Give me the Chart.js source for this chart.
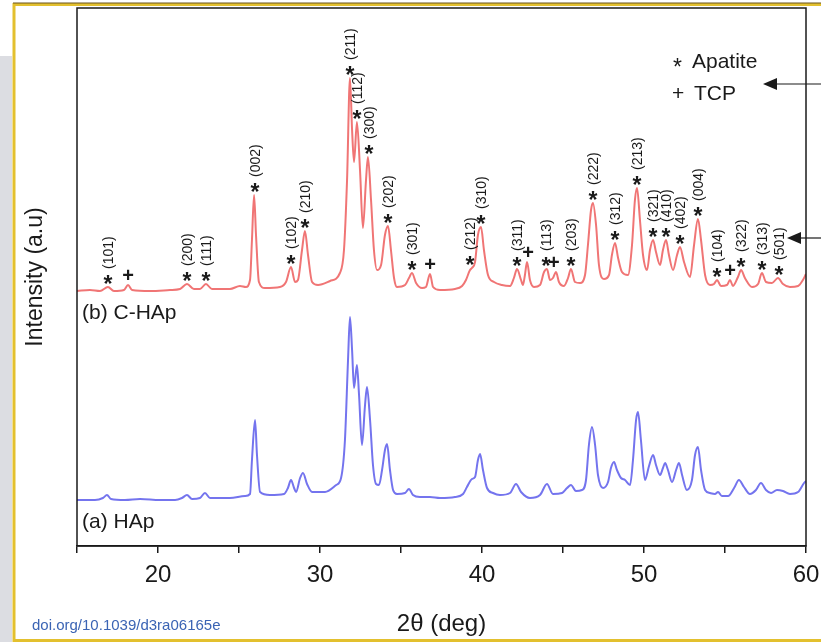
<!DOCTYPE html>
<html>
<head>
<meta charset="utf-8">
<script src="https://cdn.jsdelivr.net/npm/chart.js@4.4.0/dist/chart.umd.min.js"></script>
<style>
  html, body { margin: 0; padding: 0; background: #fff; overflow: hidden; }
</style>
</head>
<body>
<canvas id="xrd" width="821" height="642"></canvas>
<script>
// 2θ (deg) e intensidad (u.a.)
const redTheta = [15.00, 15.80, 16.42, 16.91, 17.28, 17.90, 18.15, 18.40, 19.51, 20.74, 21.36, 21.79, 22.22, 22.59, 22.96, 23.33, 24.44, 25.06, 25.43, 25.68, 25.80, 25.93, 26.05, 26.23, 26.60, 27.53, 27.90, 28.21, 28.46, 28.64, 28.89, 29.07, 29.26, 29.51, 29.88, 30.62, 31.23, 31.48, 31.67, 31.85, 31.98, 32.10, 32.28, 32.47, 32.65, 32.84, 32.96, 33.15, 33.33, 33.52, 33.77, 34.01, 34.20, 34.38, 34.57, 34.75, 35.25, 35.49, 35.68, 35.93, 36.30, 36.54, 36.79, 36.98, 37.41, 38.33, 38.77, 39.01, 39.26, 39.38, 39.57, 39.75, 39.94, 40.12, 40.37, 40.74, 41.23, 41.73, 41.97, 42.16, 42.41, 42.53, 42.65, 42.78, 42.96, 43.21, 43.58, 43.83, 44.01, 44.20, 44.38, 44.57, 44.75, 45.06, 45.31, 45.49, 45.74, 46.05, 46.36, 46.54, 46.73, 46.85, 47.04, 47.22, 47.53, 47.84, 48.02, 48.21, 48.40, 48.64, 49.01, 49.26, 49.44, 49.57, 49.75, 49.94, 50.19, 50.37, 50.56, 50.74, 50.99, 51.17, 51.36, 51.54, 51.79, 52.04, 52.22, 52.47, 52.84, 53.09, 53.33, 53.52, 53.77, 54.07, 54.32, 54.51, 54.75, 55.12, 55.31, 55.49, 55.80, 55.99, 56.23, 56.67, 57.04, 57.28, 57.53, 57.90, 58.27, 58.58, 59.01, 59.51, 59.81, 60.00];
const redI = [255, 256, 255, 259, 255, 256, 261, 256, 255, 256, 257, 262, 257, 257, 262, 257, 257, 260, 259, 266, 306, 351, 311, 264, 258, 259, 264, 279, 264, 266, 296, 315, 291, 264, 261, 265, 273, 296, 366, 468, 416, 384, 424, 376, 318, 366, 389, 346, 296, 276, 281, 311, 320, 296, 268, 259, 261, 268, 273, 263, 258, 259, 272, 259, 256, 257, 260, 266, 276, 278, 284, 311, 319, 296, 271, 264, 261, 260, 268, 277, 266, 261, 271, 284, 266, 259, 261, 274, 277, 266, 268, 274, 264, 260, 268, 277, 264, 263, 271, 301, 336, 343, 321, 281, 267, 271, 291, 303, 288, 274, 271, 301, 346, 358, 326, 291, 276, 296, 306, 294, 281, 296, 306, 291, 276, 291, 299, 284, 269, 301, 327, 306, 271, 261, 262, 266, 260, 261, 266, 260, 269, 276, 268, 259, 262, 273, 264, 263, 268, 262, 259, 260, 266, 272];

const blueTheta = [15.00, 16.11, 16.60, 16.85, 17.10, 17.96, 18.89, 20.12, 21.05, 21.48, 21.79, 22.10, 22.59, 22.90, 23.21, 24.44, 25.37, 25.68, 25.80, 25.99, 26.11, 26.30, 26.91, 27.78, 28.02, 28.21, 28.40, 28.52, 28.77, 28.95, 29.20, 29.51, 30.31, 31.00, 31.30, 31.54, 31.73, 31.85, 31.98, 32.10, 32.28, 32.41, 32.59, 32.78, 32.90, 33.09, 33.27, 33.46, 33.64, 33.83, 34.01, 34.14, 34.32, 34.51, 34.75, 35.25, 35.49, 35.74, 36.17, 36.79, 37.41, 38.33, 38.83, 39.07, 39.38, 39.57, 39.75, 39.88, 40.06, 40.31, 40.68, 41.11, 41.73, 42.10, 42.41, 42.96, 43.58, 44.01, 44.38, 44.94, 45.25, 45.49, 45.80, 46.17, 46.42, 46.60, 46.79, 46.98, 47.16, 47.47, 47.78, 47.96, 48.15, 48.33, 48.58, 48.83, 49.14, 49.32, 49.51, 49.63, 49.81, 50.06, 50.31, 50.56, 50.74, 50.99, 51.17, 51.30, 51.48, 51.73, 51.98, 52.16, 52.35, 52.65, 52.96, 53.15, 53.33, 53.52, 53.77, 54.07, 54.38, 54.57, 54.81, 55.19, 55.56, 55.86, 56.17, 56.54, 56.91, 57.22, 57.53, 57.84, 58.21, 58.58, 59.01, 59.51, 59.88, 60.00];
const blueI = [46, 46, 48, 51, 47, 46, 47, 46, 46, 48, 51, 47, 48, 53, 48, 48, 50, 52, 86, 126, 91, 54, 51, 52, 58, 66, 58, 54, 68, 73, 62, 54, 54, 61, 68, 106, 186, 229, 196, 158, 181, 151, 101, 141, 159, 126, 81, 62, 61, 76, 96, 102, 76, 56, 52, 53, 57, 51, 49, 49, 48, 49, 52, 59, 67, 69, 86, 92, 76, 58, 53, 51, 53, 62, 54, 48, 51, 62, 52, 53, 58, 61, 55, 56, 66, 101, 119, 101, 71, 58, 64, 78, 84, 76, 68, 66, 61, 86, 126, 134, 106, 66, 80, 91, 81, 71, 78, 83, 76, 64, 76, 83, 71, 56, 66, 91, 99, 76, 56, 53, 52, 54, 50, 50, 58, 66, 59, 52, 56, 63, 56, 53, 56, 55, 52, 54, 63, 65];

// marcas de fase
const apatiteHkl = ['(101)', '(200)', '(111)', '(002)', '(102)', '(210)', '(211)', '(112)', '(300)', '(202)', '(301)', '(212)', '(310)', '(311)', '(113)', '(203)', '(222)', '(312)', '(213)', '(321)', '(410)', '(402)', '(004)', '(104)', '(322)', '(313)', '(501)'];
const apatiteTheta = [16.91, 21.79, 22.96, 25.99, 28.21, 29.07, 31.85, 32.28, 33.02, 34.20, 35.68, 39.26, 39.94, 42.16, 43.95, 45.49, 46.85, 48.21, 49.57, 50.56, 51.36, 52.22, 53.33, 54.51, 55.99, 57.28, 58.33];
const tcpTheta = [18.15, 36.79, 42.84, 44.44, 55.31];

const FONT = 'Arial, "Liberation Sans", sans-serif';

// altura del pico rojo cerca de un ángulo
function picoRojo(theta) {
    let max = 0;
    redTheta.forEach((t, i) => {
        if (Math.abs(t - theta) <= 0.15 && redI[i] > max) max = redI[i];
    });
    return max;
}

const decor = {
    id: 'decor',
    beforeDraw(chart) {
        const c = chart.ctx;
        c.save();
        c.fillStyle = '#fff';
        c.fillRect(0, 0, chart.width, chart.height);
        // franja gris de la captura
        c.fillStyle = '#dcdde2';
        c.fillRect(0, 56, 12, chart.height - 56);
        // marco amarillo
        c.strokeStyle = '#e3c02e';
        c.lineWidth = 3;
        c.strokeRect(14, 4.5, chart.width, chart.height - 6);
        c.strokeStyle = '#6b5420';
        c.lineWidth = 1;
        c.beginPath();
        c.moveTo(13, 3); c.lineTo(chart.width, 3);
        c.stroke();
        c.restore();
    },
    afterDatasetsDraw(chart) {
        const c = chart.ctx;
        const a = chart.chartArea;
        const x = chart.scales.x, y = chart.scales.y;
        c.save();
        // caja del gráfico
        c.strokeStyle = '#1a1a1a';
        c.lineWidth = 1.5;
        c.strokeRect(a.left, a.top, a.right - a.left, a.bottom - a.top);

        c.fillStyle = '#1a1a1a';
        // asteriscos + índices hkl
        apatiteTheta.forEach((t, i) => {
            const px = x.getPixelForValue(t);
            const sy = y.getPixelForValue(picoRojo(t)) - 8;
            c.font = 'bold 23px ' + FONT;
            c.textAlign = 'center';
            c.textBaseline = 'alphabetic';
            c.fillText('*', px, sy + 13);
            c.save();
            c.translate(px + 1, sy - 10);
            c.rotate(-Math.PI / 2);
            c.font = '14px ' + FONT;
            c.textAlign = 'left';
            c.textBaseline = 'middle';
            c.fillText(apatiteHkl[i], 0, 0);
            c.restore();
        });
        // cruces TCP
        tcpTheta.forEach(t => {
            const px = x.getPixelForValue(t);
            const sy = y.getPixelForValue(picoRojo(t)) - 10;
            c.font = 'bold 20px ' + FONT;
            c.textAlign = 'center';
            c.textBaseline = 'alphabetic';
            c.fillText('+', px, sy + 7);
        });

        // leyenda
        c.font = '23px ' + FONT;
        c.textAlign = 'left';
        c.textBaseline = 'alphabetic';
        c.fillText('*', 673, 75);
        c.font = '21px ' + FONT;
        c.textBaseline = 'middle';
        c.fillText('Apatite', 692, 62);
        c.fillText('+', 672, 94);
        c.fillText('TCP', 694, 94);

        // nombres de muestras
        c.font = '21px ' + FONT;
        c.fillText('(b) C-HAp', 82, 313);
        c.fillText('(a) HAp', 82, 522);

        // flechas laterales
        [[763, 84], [787, 238]].forEach(([tx, ty]) => {
            c.strokeStyle = '#1a1a1a';
            c.lineWidth = 1.2;
            c.beginPath();
            c.moveTo(tx + 10, ty);
            c.lineTo(chart.width, ty);
            c.stroke();
            c.beginPath();
            c.moveTo(tx, ty);
            c.lineTo(tx + 14, ty - 6);
            c.lineTo(tx + 14, ty + 6);
            c.closePath();
            c.fill();
        });

        // doi
        c.fillStyle = '#3b64b4';
        c.font = '15px ' + FONT;
        c.fillText('doi.org/10.1039/d3ra06165e', 32, 626);
        c.restore();
    }
};

new Chart(document.getElementById('xrd').getContext('2d'), {
    type: 'line',
    data: {
        datasets: [
            {
                label: '(b) C-HAp',
                data: redTheta.map((t, i) => ({ x: t, y: redI[i] })),
                borderColor: '#f07575',
                borderWidth: 2,
                pointRadius: 0,
                cubicInterpolationMode: 'monotone',
                fill: false
            },
            {
                label: '(a) HAp',
                data: blueTheta.map((t, i) => ({ x: t, y: blueI[i] })),
                borderColor: '#7474ee',
                borderWidth: 2,
                pointRadius: 0,
                cubicInterpolationMode: 'monotone',
                fill: false
            }
        ]
    },
    options: {
        responsive: false,
        animation: false,
        layout: { padding: { top: 8, right: 15, left: 0, bottom: 0 } },
        plugins: { legend: { display: false }, tooltip: { enabled: false } },
        scales: {
            x: {
                type: 'linear',
                min: 15,
                max: 60,
                ticks: {
                    stepSize: 5,
                    autoSkip: false,
                    maxRotation: 0,
                    padding: 8,
                    color: '#1a1a1a',
                    font: { family: FONT, size: 24 },
                    callback: v => (v % 10 === 0 ? v : '')
                },
                grid: { drawOnChartArea: false, drawTicks: true, tickLength: 7, color: '#1a1a1a', lineWidth: 1.5 },
                border: { color: '#1a1a1a', width: 1.5 },
                title: {
                    display: true,
                    text: '2θ (deg)',
                    color: '#1a1a1a',
                    font: { family: FONT, size: 24 },
                    padding: { top: 0, bottom: 3 }
                },
                afterFit(s) { s.height = 96; s.paddingLeft = 0; s.paddingRight = 0; }
            },
            y: {
                min: 0,
                max: 538,
                ticks: { display: false },
                grid: { display: false },
                border: { display: false },
                title: {
                    display: true,
                    text: 'Intensity (a.u)',
                    color: '#1a1a1a',
                    font: { family: FONT, size: 23 },
                    padding: { top: 22, bottom: 0 }
                },
                afterFit(s) { s.width = 77; s.paddingTop = 0; s.paddingBottom = 0; }
            }
        }
    },
    plugins: [decor]
});
</script>
</body>
</html>
